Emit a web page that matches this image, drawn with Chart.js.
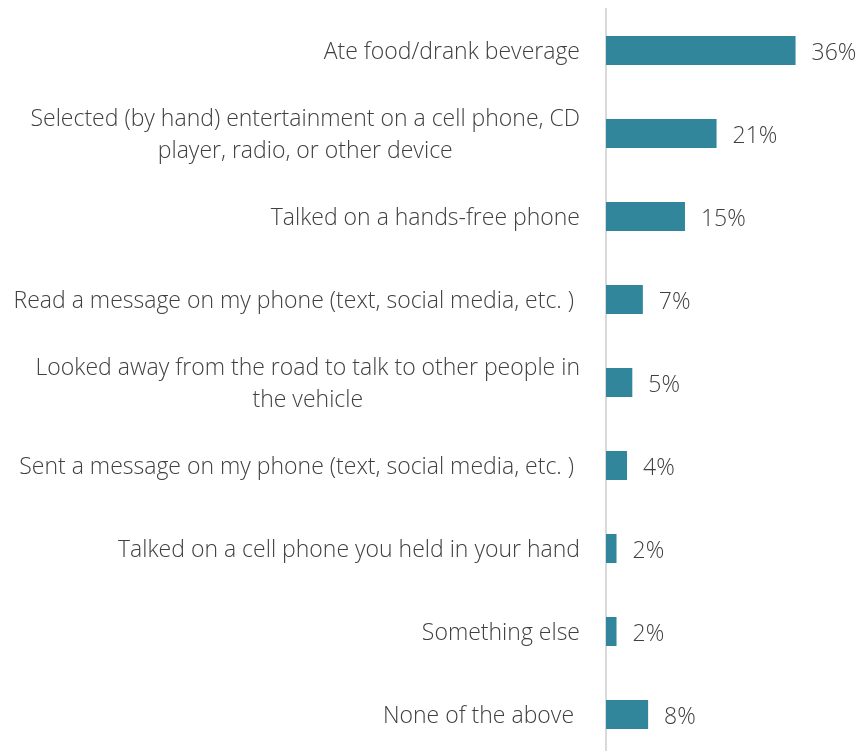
<!DOCTYPE html>
<html>
<head>
<meta charset="utf-8">
<script src="https://cdn.jsdelivr.net/npm/chart.js@4/dist/chart.umd.min.js"></script>
<style>
  html, body { margin: 0; padding: 0; background: #fff; overflow: hidden; }
  #wrap { width: 864px; height: 756px; position: relative; }
</style>
</head>
<body>
<div id="wrap"><canvas id="myChart"></canvas></div>
<script>
// Activities while driving (share of respondents)
const categories = [
    ['Ate food/drank beverage'],
    ['Selected (by hand) entertainment on a cell phone, CD', 'player, radio, or other device'],
    ['Talked on a hands-free phone'],
    ['Read a message on my phone (text, social media, etc. ) '],
    ['Looked away from the road to talk to other people in', 'the vehicle'],
    ['Sent a message on my phone (text, social media, etc. ) '],
    ['Talked on a cell phone you held in your hand'],
    ['Something else'],
    ['None of the above ']
];
const percentValues = [36, 21, 15, 7, 5, 4, 2, 2, 8];

const barColor = '#31869b';
const textColor = '#404040';
const labelFont = '300 23px "Open Sans"';

// Category labels: right-aligned block, lines centred within the block
const categoryLabels = {
    id: 'categoryLabels',
    afterDraw(chart) {
        const ctx = chart.ctx;
        const y = chart.scales.y;
        const right = chart.chartArea.left - 26;
        ctx.save();
        ctx.font = labelFont;
        ctx.fillStyle = textColor;
        ctx.textBaseline = 'middle';
        ctx.textAlign = 'center';
        const lineH = 32;
        categories.forEach((lines, i) => {
            const cy = y.getPixelForValue(i) + 2;
            const blockW = Math.max(...lines.map(l => ctx.measureText(l).width));
            const cx = right - blockW / 2;
            const top = cy - (lines.length - 1) * lineH / 2;
            lines.forEach((l, j) => ctx.fillText(l, cx, top + j * lineH));
        });
        ctx.restore();
    }
};

// Value labels after each bar
const valueLabels = {
    id: 'valueLabels',
    afterDatasetsDraw(chart) {
        const ctx = chart.ctx;
        const meta = chart.getDatasetMeta(0);
        ctx.save();
        ctx.font = labelFont;
        ctx.fillStyle = textColor;
        ctx.textBaseline = 'middle';
        ctx.textAlign = 'left';
        meta.data.forEach((bar, i) => {
            ctx.fillText(percentValues[i] + '%', bar.x + 16, bar.y + 3);
        });
        ctx.restore();
    }
};

new Chart('myChart', {
    type: 'bar',
    data: {
        labels: categories,
        datasets: [{
            data: percentValues,
            backgroundColor: barColor,
            borderWidth: 0,
            barPercentage: 0.35,
            categoryPercentage: 1
        }]
    },
    options: {
        indexAxis: 'y',
        responsive: true,
        maintainAspectRatio: false,
        animation: false,
        layout: { padding: { top: 9, bottom: 0, right: 0, left: 0 } },
        plugins: {
            legend: { display: false },
            tooltip: { enabled: false }
        },
        scales: {
            x: {
                display: false,
                min: 0,
                max: 49
            },
            y: {
                grid: { display: false, drawTicks: false },
                border: { display: true, color: '#d9d9d9', width: 2 },
                ticks: { display: false },
                afterFit(scale) { scale.width = 606; }
            }
        }
    },
    plugins: [categoryLabels, valueLabels]
});
</script>
</body>
</html>
